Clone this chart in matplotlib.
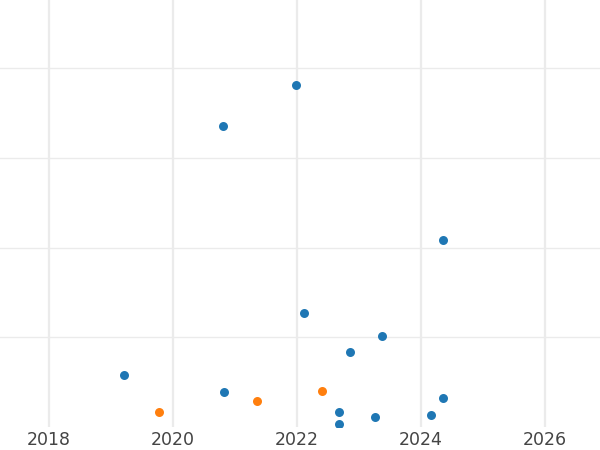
import matplotlib.pyplot as plt

# decimal years and values
blue_x = [2019.205, 2020.811, 2021.984, 2024.355, 2022.108, 2023.366, 2022.850,
          2020.815, 2024.360, 2022.672, 2023.253, 2024.156, 2022.672]
blue_y = [5.76, 33.6, 38.1, 20.9, 12.68, 10.2, 8.33, 3.9, 3.2, 1.64, 1.08, 1.37, 0.30]

orange_x = [2019.774, 2021.360, 2022.398]
orange_y = [1.64, 2.9, 3.98]

year_ticks = [2018, 2020, 2022, 2024, 2026]
value_ticks = [10, 20, 30, 40]

fig = plt.figure(figsize=(6, 4.5), dpi=100)
ax = fig.add_axes([0, 23 / 450, 1, 427 / 450])

ax.scatter(blue_x, blue_y, s=42, color='#1f77b4', linewidths=0, zorder=3)
ax.scatter(orange_x, orange_y, s=42, color='#ff7f0e', linewidths=0, zorder=3)

ax.set_xlim(2018 - 49 / 62, 2018 + 551 / 62)
ax.set_ylim(0, 427 / 8.97)
ax.set_xticks(year_ticks)
ax.set_yticks(value_ticks)
ax.set_xticklabels([str(y) for y in year_ticks])
ax.set_yticklabels([])

ax.grid(axis='x', color='#ebebeb', linewidth=1.6)
ax.grid(axis='y', color='#ebebeb', linewidth=1.0)
ax.set_axisbelow(True)
ax.tick_params(length=0, labelsize=12.5, labelcolor='#444444', pad=3)
for s in ax.spines.values():
    s.set_visible(False)

plt.savefig('out.png', dpi=100)
